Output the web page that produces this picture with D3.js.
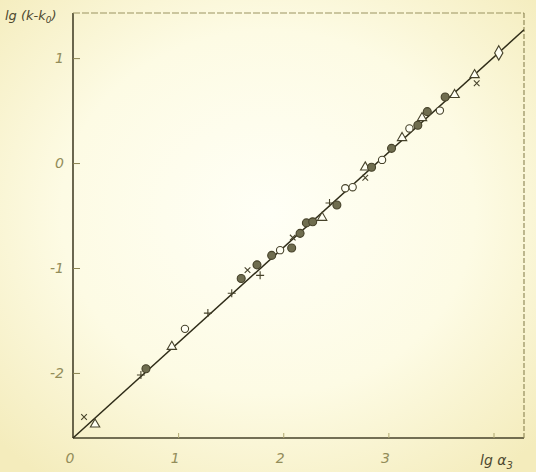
<!DOCTYPE html>
<html>
<head>
<meta charset="utf-8">
<script src="https://cdn.jsdelivr.net/npm/d3@7"></script>
<style>
  html, body { margin: 0; padding: 0; background: #fbf8d9; }
  svg { display: block; }
  .tick-label { font-family: "DejaVu Sans", sans-serif; font-style: italic; font-size: 14px; fill: #938d5a; }
  .axis-title { font-family: "DejaVu Sans", sans-serif; font-style: italic; fill: #4d4930; }
</style>
</head>
<body>
<div id="chart"></div>
<script>
// lg a3 vs lg(k - k0)
const X_TICKS = [0, 1, 2, 3];
const Y_TICKS = [1, 0, -1, -2];
const FIT_LINE = [[0, -2.62], [4.29, 1.27]];

const PT_X = [0.105, 0.21, 0.646, 0.694, 0.94, 1.065, 1.283, 1.51, 1.60, 1.66,
  1.78, 1.75, 1.89, 1.97, 2.08, 2.09, 2.16, 2.22, 2.28, 2.37,
  2.44, 2.51, 2.59, 2.66, 2.78, 2.78, 2.84, 2.94, 3.03, 3.13,
  3.20, 3.28, 3.32, 3.37, 3.49, 3.54, 3.63, 3.82, 3.84, 4.05];
const PT_Y = [-2.42, -2.49, -2.02, -1.96, -1.75, -1.58, -1.43, -1.24, -1.10, -1.02,
  -1.07, -0.97, -0.88, -0.83, -0.81, -0.71, -0.67, -0.57, -0.56, -0.52,
  -0.38, -0.40, -0.24, -0.23, -0.14, -0.04, -0.04, 0.03, 0.14, 0.24,
  0.33, 0.36, 0.43, 0.49, 0.50, 0.63, 0.65, 0.84, 0.76, 1.05];
const PT_KIND = ['cross', 'triangle', 'plus', 'dot', 'triangle', 'circle', 'plus', 'plus', 'dot', 'cross',
  'plus', 'dot', 'dot', 'circle', 'dot', 'cross', 'dot', 'dot', 'dot', 'triangle',
  'plus', 'dot', 'circle', 'circle', 'cross', 'triangle', 'dot', 'circle', 'dot', 'triangle',
  'circle', 'dot', 'triangle', 'dot', 'circle', 'dot', 'triangle', 'triangle', 'cross', 'diamond'];

const W = 536, H = 472;
const M = { top: 13, right: 12, bottom: 34, left: 73 };
const innerW = W - M.left - M.right, innerH = H - M.top - M.bottom;
const INK = '#46422a';

const svg = d3.select('#chart').append('svg').attr('width', W).attr('height', H);

// yellowed paper
const defs = svg.append('defs');
const grad = defs.append('radialGradient').attr('id', 'paper')
  .attr('cx', '50%').attr('cy', '45%').attr('r', '70%');
grad.append('stop').attr('offset', '0%').attr('stop-color', '#fffff6');
grad.append('stop').attr('offset', '55%').attr('stop-color', '#fdfbe4');
grad.append('stop').attr('offset', '100%').attr('stop-color', '#f4ecbc');
svg.append('rect').attr('width', W).attr('height', H).attr('fill', 'url(#paper)');

const g = svg.append('g').attr('transform', `translate(${M.left},${M.top})`);

const x = d3.scaleLinear().domain([0, 4.29]).range([0, innerW]);
const y = d3.scaleLinear().domain([-2.62, 1.43]).range([innerH, 0]);

// frame: solid left/bottom, faint dashed top/right
g.append('line').attr('x1', 0).attr('x2', 0).attr('y1', 0).attr('y2', innerH)
  .attr('stroke', INK).attr('stroke-width', 1.6);
g.append('line').attr('x1', 0).attr('x2', innerW).attr('y1', innerH).attr('y2', innerH)
  .attr('stroke', INK).attr('stroke-width', 1.6);
g.append('line').attr('x1', 0).attr('x2', innerW).attr('y1', 0).attr('y2', 0)
  .attr('stroke', '#9a9360').attr('stroke-width', 1).attr('stroke-dasharray', '7 2');
g.append('line').attr('x1', innerW).attr('x2', innerW).attr('y1', 0).attr('y2', innerH)
  .attr('stroke', '#8a8350').attr('stroke-width', 1.1).attr('stroke-dasharray', '5 2');

// inward ticks
const yAxis = d3.axisRight(y).tickValues(Y_TICKS).tickSize(7).tickFormat('');
g.append('g').call(yAxis).call(s => s.select('.domain').remove())
  .selectAll('line').attr('stroke', '#8a8350');
const xAxis = d3.axisTop(x).tickValues([1, 2, 3, 4]).tickSize(5).tickFormat('');
g.append('g').attr('transform', `translate(0,${innerH})`).call(xAxis)
  .call(s => s.select('.domain').remove())
  .selectAll('line').attr('stroke', '#b0a970');

g.selectAll('text.ylab').data(Y_TICKS).join('text')
  .attr('class', 'tick-label')
  .attr('x', -9).attr('y', d => y(d) + 5)
  .attr('text-anchor', 'end')
  .text(d => d < 0 ? '-' + Math.abs(d) : d);
g.selectAll('text.xlab').data(X_TICKS).join('text')
  .attr('class', 'tick-label')
  .attr('x', d => x(d) - 3).attr('y', innerH + 25)
  .attr('text-anchor', 'middle')
  .text(d => d);

// axis titles
const yt = svg.append('text').attr('class', 'axis-title').attr('x', 5).attr('y', 20).style('font-size', '13px');
yt.append('tspan').text('lg (k-k');
yt.append('tspan').attr('dy', 3).style('font-size', '9px').text('0');
yt.append('tspan').attr('dy', -3).text(')');
const xt = svg.append('text').attr('class', 'axis-title').attr('x', 480).attr('y', 465).style('font-size', '14px');
xt.append('tspan').text('lg α');
xt.append('tspan').attr('dy', 4).style('font-size', '10px').text('3');

// fitted line
g.append('path')
  .attr('d', d3.line().x(d => x(d[0])).y(d => y(d[1]))(FIT_LINE))
  .attr('fill', 'none').attr('stroke', '#2f2c18').attr('stroke-width', 1.5);

// points
const pts = PT_X.map((v, i) => ({ x: v, y: PT_Y[i], k: PT_KIND[i] }));
const sym = {
  triangle: d3.symbol().type(d3.symbolTriangle).size(38),
  diamond: d3.symbol().type(d3.symbolDiamond).size(60),
  circle: d3.symbol().type(d3.symbolCircle).size(42),
  dot: d3.symbol().type(d3.symbolCircle).size(50),
};
const mk = g.append('g').selectAll('g').data(pts).join('g')
  .attr('transform', d => `translate(${x(d.x)},${y(d.y)})`);

mk.filter(d => d.k === 'plus' || d.k === 'cross').each(function (d) {
  const s = d3.select(this).attr('transform', `translate(${x(d.x)},${y(d.y)}) rotate(${d.k === 'cross' ? 45 : 0})`);
  s.append('path').attr('d', 'M-4,0H4M0,-4V4')
    .attr('stroke', INK).attr('stroke-width', 1.1).attr('fill', 'none');
});
mk.filter(d => sym[d.k]).append('path')
  .attr('d', d => sym[d.k]())
  .attr('fill', d => d.k === 'dot' ? '#6f6d4f' : '#fffff4')
  .attr('stroke', INK).attr('stroke-width', 1.1);
</script>
</body>
</html>
